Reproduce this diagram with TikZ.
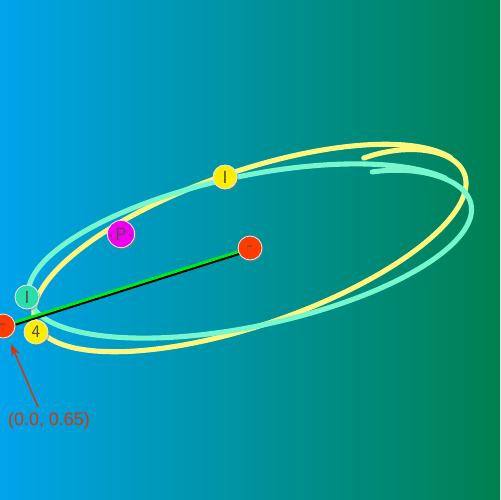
\documentclass[tikz,border=0pt]{standalone}
\usepackage{fontspec}
\setmainfont{Liberation Sans}
\usetikzlibrary{shadows,arrows.meta}
\definecolor{bgL}{RGB}{0,164,234}
\definecolor{bgR}{RGB}{0,128,80}
\definecolor{orbY}{RGB}{255,246,125}
\definecolor{orbC}{RGB}{120,246,205}
\definecolor{redB}{RGB}{255,60,0}
\definecolor{aquaB}{RGB}{40,222,170}
\definecolor{yelB}{RGB}{255,238,0}
\definecolor{magB}{RGB}{238,0,238}
\definecolor{lineG}{RGB}{0,235,20}
\definecolor{arr}{RGB}{220,50,10}
\tikzset{
  body/.style={circle, minimum size=0.48cm, inner sep=0pt, draw=white!80!gray, line width=0.5pt,
    drop shadow={shadow xshift=0.9pt, shadow yshift=-0.9pt, opacity=0.45},
    font=\sffamily\fontsize{10}{10}\selectfont, text=gray!60!black},
  orbitline/.style={line width=2.9pt, line cap=round, line join=round},
}
\begin{document}
\begin{tikzpicture}[x=0.02cm, y=-0.02cm]
\useasboundingbox (0,0) rectangle (500,500);
\clip (0,0) rectangle (500,500);
\shade[left color=bgL, right color=bgR] (0,0) rectangle (500,500);
% yellow orbit
\begin{scope}[shift={(250,248)}, rotate=19]
\draw[orbitline, orbY] plot[domain=-46:345, samples=160, smooth, variable=\t]
  ({(1-0.132*exp(max(-20,-(\t+46)/9)))*227*cos(\t)}, {(1-0.132*exp(max(-20,-(\t+46)/9)))*77*sin(\t)});
\end{scope}
% cyan orbit
\begin{scope}[shift={(250,251)}, rotate=12]
\draw[orbitline, orbC] plot[domain=-49:336, samples=160, smooth, variable=\t]
  ({(1-0.083*exp(max(-20,-(\t+49)/9)))*226*cos(\t)}, {(1-0.083*exp(max(-20,-(\t+49)/9)))*75*sin(\t)});
\end{scope}
% nodes
\coordinate (pc) at (3,326);
\coordinate (sc) at (250,248);
\draw[black, line width=1.6pt] ([yshift=-1.2pt]pc) -- ([yshift=-1.2pt]sc);
\draw[lineG, line width=1.6pt] (pc) -- (sc);
\node[body, fill=redB] (sun) at (250,248) {-};
\node[body, fill=redB] (p0) at (3,326) {-};
\node[body, fill=aquaB] (a1) at (27,297) {I};
\node[body, fill=yelB] (y4) at (36,332) {4};
\node[body, fill=magB] (mp) at (121,234) {$\cdot$\kern1pt P\kern1pt$\cdot$};
\node[body, fill=yelB] (yi) at (225,177) {I};
% annotation
\node[text=arr, font=\fontsize{10.2}{12}\selectfont] (lab) at (49,421) {(0.0, 0.65)};
\coordinate (astart) at (38,407);
\coordinate (tip) at (11,344);
\draw[arr, line width=0.8pt, -{Stealth[length=7pt,width=5pt]}] (astart) -- (tip);
\end{tikzpicture}
\end{document}
